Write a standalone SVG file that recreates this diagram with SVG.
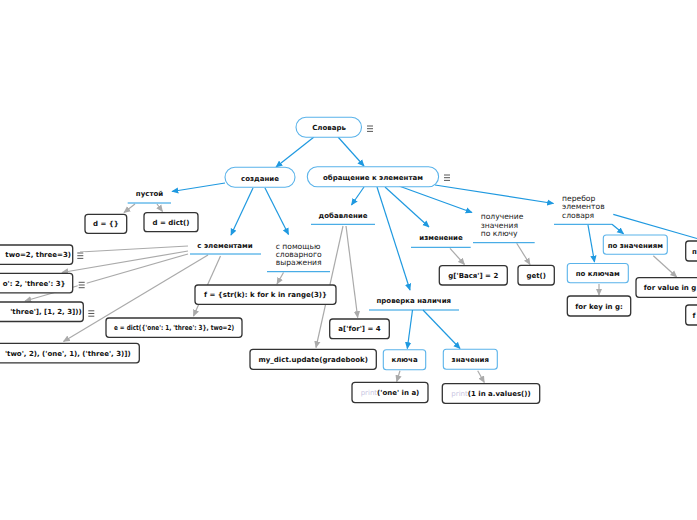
<svg xmlns="http://www.w3.org/2000/svg" width="697" height="520" viewBox="0 0 697 520">
<style>
text{font-family:"DejaVu Sans","Liberation Sans",sans-serif;font-size:7px;fill:#111}
.b{font-weight:bold}
.c{text-anchor:middle}
.e{text-anchor:end}
.m{font-size:7.6px;fill:#1a1a1a}
.bl{fill:#fff;stroke:#5ab3ea;stroke-width:1.1}
.dk{fill:#fff;stroke:#333;stroke-width:1.3}
.ul{stroke:#1f99e0;stroke-width:1;fill:none}
.cb{stroke:#1f99e0;stroke-width:1.2;fill:none}
.cg{stroke:#aaa;stroke-width:1.2;fill:none}
.pr{fill:#c9c6e2;font-weight:normal}
.ic{stroke:#444;stroke-width:0.9}
</style>
<defs>
<marker id="ab" viewBox="0 0 10 10" refX="9" refY="5" markerWidth="7" markerHeight="7" markerUnits="userSpaceOnUse" orient="auto"><path d="M0,0.5 L10,5 L0,9.5 z" fill="#1f99e0"/></marker>
<marker id="ag" viewBox="0 0 10 10" refX="9" refY="5" markerWidth="7" markerHeight="7" markerUnits="userSpaceOnUse" orient="auto"><path d="M0,0.5 L10,5 L0,9.5 z" fill="#aaa"/></marker>
<g id="menu"><rect x="-1" y="-3" width="9" height="8" fill="#fff"/><path class="ic" d="M0,-2H6M0,0.7H6M0,3.4H6"/></g>
</defs>
<rect width="697" height="520" fill="#fff"/>
<g id="connectors">
<path class="cb" marker-end="url(#ab)" d="M314,137 L276,167"/>
<path class="cb" marker-end="url(#ab)" d="M338,137 L364,166"/>
<path class="cb" marker-end="url(#ab)" d="M225,183 L172,191.5"/>
<path class="cb" marker-end="url(#ab)" d="M253,188 L231,235"/>
<path class="cb" marker-end="url(#ab)" d="M265,188 L288.5,234.5"/>
<path class="cb" marker-end="url(#ab)" d="M364,187 L351.5,205"/>
<path class="cb" marker-end="url(#ab)" d="M377,187 L410,290"/>
<path class="cb" marker-end="url(#ab)" d="M385,187 L429,227"/>
<path class="cb" marker-end="url(#ab)" d="M399,186 L472,212.5"/>
<path class="cb" marker-end="url(#ab)" d="M435,185 L553.5,203.5"/>
<path class="cb" marker-end="url(#ab)" d="M412.5,310 L407.3,348.5"/>
<path class="cb" marker-end="url(#ab)" d="M423,310 L460,348.5"/>
<path class="cb" marker-end="url(#ab)" d="M588,225 L594.5,262"/>
<path class="cb" marker-end="url(#ab)" d="M612,224.3 L623.5,233.8"/>
<path class="cb" d="M613.3,214.3 L697,238.5"/>
<path class="cg" marker-end="url(#ag)" d="M135,204 L124,212.5"/>
<path class="cg" marker-end="url(#ag)" d="M157,204 L162.5,211.5"/>
<path class="cg" d="M188,246 L80,252"/>
<path class="cg" marker-end="url(#ag)" d="M188,251 L62,272.5"/>
<path class="cg" marker-end="url(#ag)" d="M188,254 L25,301"/>
<path class="cg" marker-end="url(#ag)" d="M208,255 L63.5,341.5"/>
<path class="cg" marker-end="url(#ag)" d="M220.5,256 L193.5,316"/>
<path class="cg" marker-end="url(#ag)" d="M283.5,272.5 L277,284"/>
<path class="cg" marker-end="url(#ag)" d="M343,226 L316,347.5"/>
<path class="cg" marker-end="url(#ag)" d="M346,226 L357.7,317.5"/>
<path class="cg" marker-end="url(#ag)" d="M450,248.3 L464.5,264.5"/>
<path class="cg" marker-end="url(#ag)" d="M516.7,243.3 L530,264.5"/>
<path class="cg" marker-end="url(#ag)" d="M400,370.7 L396.7,381.5"/>
<path class="cg" marker-end="url(#ag)" d="M477.7,370.7 L484.3,382.5"/>
<path class="cg" marker-end="url(#ag)" d="M599,284 L599,295"/>
<path class="cg" marker-end="url(#ag)" d="M653.3,255.7 L676.7,277"/>
</g>
<g id="root"><rect class="bl" x="296" y="117.3" width="65.5" height="20" rx="10"/><text class="b c" x="329" y="130">Словарь</text><use href="#menu" x="367" y="128"/></g>
<g id="sozdanie"><rect class="bl" x="225" y="167.3" width="70" height="20" rx="10"/><text class="b c" x="260" y="180.5">создание</text></g>
<g id="obrashenie"><rect class="bl" x="307.3" y="166.7" width="131.3" height="20" rx="10"/><text class="b c" x="373" y="180">обращение к элементам</text><use href="#menu" x="444" y="177"/></g>
<g id="pustoy"><text class="b c" x="149.5" y="195.8">пустой</text><path class="ul" d="M127.7,203H171"/></g>
<g id="d1"><rect class="dk" x="85" y="214.3" width="41.7" height="19" rx="3"/><text class="b c" x="105.8" y="226.3">d = {}</text></g>
<g id="d2"><rect class="dk" x="144" y="212.7" width="54" height="19" rx="3"/><text class="b c" x="171" y="224.7">d = dict()</text></g>
<g id="s_elem"><text class="b c" x="225" y="248.3">с элементами</text><path class="ul" d="M190,254H261"/></g>
<g id="s_pomoshu"><text class="m" x="275.7" y="248.7">с помощью</text><text class="m" x="275.7" y="257">словарного</text><text class="m" x="275.7" y="265.3">выражения</text><path class="ul" d="M267,271.7H330"/></g>
<g id="box_a"><rect class="dk" x="-200" y="245" width="272.7" height="19.3" rx="3"/><text class="b e" x="71" y="257.2">two=2, three=3)</text><use href="#menu" x="77.3" y="255"/></g>
<g id="box_b"><rect class="dk" x="-200" y="273.3" width="272.7" height="19.5" rx="3"/><text class="b e" x="65.5" y="285.6">o': 2, 'three': 3}</text><use href="#menu" x="78.7" y="284.3"/></g>
<g id="box_c"><rect class="dk" x="-200" y="302" width="283.3" height="19.5" rx="3"/><text class="b e" x="81.7" y="314.3">'three'], [1, 2, 3]))</text><use href="#menu" x="88.3" y="312.8"/></g>
<g id="box_d"><rect class="dk" x="-200" y="343.3" width="339.3" height="19.5" rx="3"/><text class="b e" x="130.7" y="355.6">'two', 2), ('one', 1), ('three', 3)])</text></g>
<g id="box_f"><rect class="dk" x="195" y="285" width="141" height="19.3" rx="3"/><text class="b c" x="265.5" y="297.2">f = {str(k): k for k in range(3)}</text></g>
<g id="box_e"><rect class="dk" x="106" y="318" width="136" height="19.3" rx="3"/><text class="b" x="114" y="330.2" textLength="120" lengthAdjust="spacingAndGlyphs">e = dict({'one': 1, 'three': 3}, two=2)</text></g>
<g id="dobavlenie"><text class="b c" x="343" y="218.3">добавление</text><path class="ul" d="M311,224.3H375"/></g>
<g id="box_afor"><rect class="dk" x="329.7" y="319" width="59.6" height="19.7" rx="3"/><text class="b c" x="359.5" y="331.3">a['for'] = 4</text></g>
<g id="box_update"><rect class="dk" x="250" y="349.3" width="126.3" height="20" rx="3"/><text class="b c" x="313.2" y="361.8">my_dict.update(gradebook)</text></g>
<g id="izmenenie"><text class="b c" x="441" y="240.3">изменение</text><path class="ul" d="M411,247.3H470.7"/></g>
<g id="box_vasya"><rect class="dk" x="439.3" y="265.7" width="68" height="19.3" rx="3"/><text class="b c" x="473.3" y="277.8">g['Вася'] = 2</text></g>
<g id="poluchenie"><text class="m" x="480.7" y="219.4">получение</text><text class="m" x="480.7" y="227.7">значения</text><text class="m" x="480.7" y="236">по ключу</text><path class="ul" d="M473,242.7H534.7"/></g>
<g id="box_get"><rect class="dk" x="518" y="265.3" width="36.3" height="19.7" rx="3"/><text class="b c" x="536.2" y="277.8">get()</text></g>
<g id="proverka"><text class="b c" x="413.8" y="303.2">проверка наличия</text><path class="ul" d="M369,310H459"/></g>
<g id="klyucha"><rect class="bl" x="383.3" y="349.7" width="42.4" height="20" rx="3"/><text class="b c" x="404.5" y="362.2">ключа</text></g>
<g id="znacheniya"><rect class="bl" x="443.3" y="349.3" width="54" height="20" rx="3"/><text class="b c" x="470.3" y="361.8">значения</text></g>
<g id="box_print1"><rect class="dk" x="352" y="382.3" width="76" height="20.3" rx="3"/><text class="b c" x="390" y="395"><tspan class="pr">print</tspan>('one' in a)</text></g>
<g id="box_print2"><rect class="dk" x="442.3" y="383.7" width="97.4" height="19.6" rx="3"/><text class="b c" x="491" y="396"><tspan class="pr">print</tspan>(1 in a.values())</text></g>
<g id="perebor"><text class="m" x="562" y="201">перебор</text><text class="m" x="562" y="209.3">элементов</text><text class="m" x="562" y="217.6">словаря</text><path class="ul" d="M554,224.3H612"/></g>
<g id="po_klyucham"><rect class="bl" x="567.3" y="263.5" width="61" height="19.3" rx="3"/><text class="b c" x="597.8" y="275.8">по ключам</text></g>
<g id="box_forkey"><rect class="dk" x="567.3" y="296" width="63.4" height="20" rx="3"/><text class="b c" x="599" y="308.5">for key in g:</text></g>
<g id="po_znacheniyam"><rect class="bl" x="603.3" y="235" width="64" height="19.3" rx="3"/><text class="b c" x="635.3" y="247.7">по значениям</text></g>
<g id="box_forvalue"><rect class="dk" x="636" y="277.7" width="120" height="19.6" rx="3"/><text class="b" x="643.8" y="290">for value in g</text></g>
<g id="po_param"><rect class="dk" x="685.7" y="241" width="80" height="20" rx="3"/><text class="b" x="692" y="253.5">п</text></g>
<g id="box_foritems"><rect class="dk" x="685.7" y="305" width="120" height="20" rx="3"/><text class="b" x="692.5" y="317.5">f</text></g>
</svg>
